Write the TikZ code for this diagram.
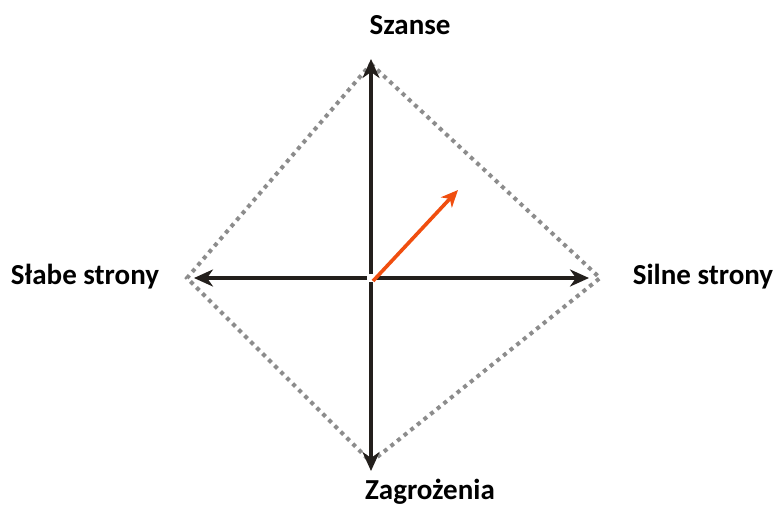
\documentclass[tikz,border=0pt]{standalone}
\usepackage{fontspec}
\setmainfont{Carlito}
\usepackage{xcolor}
\usetikzlibrary{arrows.meta}
\definecolor{swotgray}{HTML}{8C8C8C}
\definecolor{swotred}{HTML}{F04E0F}
\definecolor{swotblack}{HTML}{231F1C}

\begin{document}
\begin{tikzpicture}[x=1pt,y=-1pt]
  \useasboundingbox (0,0) rectangle (778,507);
  \tikzset{axis/.style={swotblack, line width=4.5pt, shorten <=4pt,
      -{Stealth[length=19pt,width=17pt,inset=6pt]}},
    lbl/.style={font=\bfseries\fontsize{29}{34}\selectfont}}
  \coordinate (O) at (371,278);
  \coordinate (T) at (371,64);
  \coordinate (D) at (371,462);
  \coordinate (L) at (187,278);
  \coordinate (R) at (600,278);
  \coordinate (P) at (458,190);
  \draw[swotgray, line width=4pt, dash pattern=on 4pt off 4.5pt]
    (T) -- (R) -- (D) -- (L) -- cycle;
  \draw[axis] (O) -- ([yshift=5pt]T);
  \draw[axis] (O) -- ([yshift=-9pt]D);
  \draw[axis] (O) -- ([xshift=7pt]L);
  \draw[axis] (O) -- ([xshift=-11pt]R);
  \draw[swotred, line width=3.6pt,
    -{Stealth[length=17pt,width=15pt,inset=5pt]}] ([shift={(2pt,-3pt)}]O) -- (P);
  \node[lbl] (szanse) at (410,25) {Szanse};
  \node[lbl] (zagr) at (430,492) {Zagrożenia};
  \node[lbl] (slabe) at (85,277) {Słabe strony};
  \node[lbl] (silne) at (703,277) {Silne strony};
\end{tikzpicture}
\end{document}
